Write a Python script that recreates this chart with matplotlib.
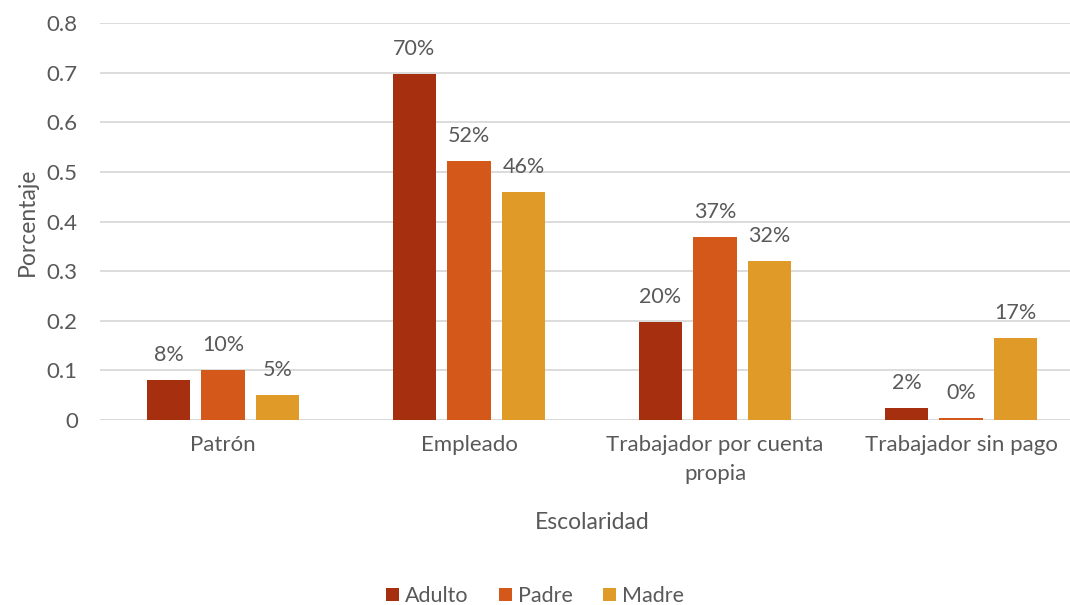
import numpy as np
import matplotlib
matplotlib.use('Agg')
import matplotlib.pyplot as plt

plt.rcParams['font.family'] = ['Lato', 'DejaVu Sans']

categorias = ['Patrón', 'Empleado', 'Trabajador por cuenta\npropia', 'Trabajador sin pago']
series = ['Adulto', 'Padre', 'Madre']
adulto = [0.081, 0.698, 0.198, 0.024]
padre = [0.101, 0.522, 0.369, 0.004]
madre = [0.050, 0.460, 0.321, 0.165]
etiquetas = [['8%', '70%', '20%', '2%'],
             ['10%', '52%', '37%', '0%'],
             ['5%', '46%', '32%', '17%']]
colores = ['#A52F0F', '#D4581A', '#E09A28']
gris = '#595959'

fig = plt.figure(figsize=(10.7, 6.05), dpi=100)
ax = fig.add_axes([100/1070, 1 - 420/605, 984/1070, 397/605])

x = np.arange(len(categorias))
w = 0.175
paso = 0.222
for i, (vals, nombre) in enumerate(zip([adulto, padre, madre], series)):
    pos = x + (i - 1) * paso
    ax.bar(pos, vals, width=w, color=colores[i], label=nombre, zorder=3)
    for px, v, t in zip(pos, vals, etiquetas[i]):
        ax.annotate(t, (px, v), xytext=(0, 18), textcoords='offset points',
                    ha='center', va='center', fontsize=15.5, color=gris)

ax.set_xlim(-0.5, 3.5)
ax.set_ylim(0, 0.8)
ax.set_yticks(np.arange(0, 0.81, 0.1))
ax.set_yticklabels(['0'] + ['%.1f' % v for v in np.arange(0.1, 0.81, 0.1)])
ax.set_xticks(x)
ax.set_xticklabels(categorias, fontsize=16, color=gris, linespacing=1.55)
ax.tick_params(axis='y', labelsize=16, labelcolor=gris, length=0, pad=16)
ax.tick_params(axis='x', length=0, pad=11)
ax.yaxis.grid(True, color='#D9D9D9', linewidth=1.3, zorder=0)
for s in ax.spines.values():
    s.set_visible(False)
ax.axhline(0, color='#D9D9D9', linewidth=1.3, zorder=2)

ax.set_ylabel('Porcentaje', fontsize=16.5, color=gris, labelpad=6)
ax.set_xlabel('Escolaridad', fontsize=16.5, color=gris, labelpad=20)

fig.legend(loc='center', bbox_to_anchor=(535/1070, 1 - 596/605), ncol=3, frameon=False,
           fontsize=15.5, labelcolor=gris, handlelength=0.6, handleheight=0.6,
           handletextpad=0.3, columnspacing=1.4)

fig.savefig('out.png', dpi=100)
